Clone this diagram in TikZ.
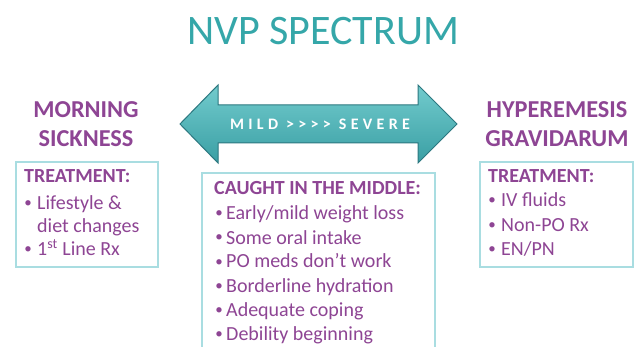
\documentclass[tikz,border=0pt]{standalone}
\usepackage{fontspec}
\setmainfont{Carlito}
\definecolor{teal1}{HTML}{35A7A9}
\definecolor{purp}{HTML}{8E4594}
\definecolor{boxc}{HTML}{A9DDE1}
\definecolor{arrowtop}{HTML}{72CBCD}
\definecolor{arrowbot}{HTML}{3A9FA4}
\definecolor{arrowline}{HTML}{2C7880}
\begin{document}
\begin{tikzpicture}[x=1pt,y=-1pt,
  hdr/.style={text=purp,font=\fontsize{24.3}{29}\selectfont\bfseries,align=center,inner sep=0pt},
  panel/.style={draw=boxc,line width=2pt},
  bt/.style={text=purp,font=\fontsize{20}{24}\selectfont,anchor=base west,inner sep=0pt},
  bh/.style={text=purp,font=\fontsize{20}{24}\selectfont\bfseries,anchor=base west,inner sep=0pt},
  bul/.style={text=purp,font=\fontsize{15}{18}\selectfont,anchor=base,inner sep=0pt}]
\useasboundingbox (0,0) rectangle (634,347);
\fill[white] (0,0) rectangle (634,347);
% title
\node[text=teal1,font=\fontsize{42}{46}\selectfont,anchor=base,inner sep=0pt] (title) at (323,45) {NVP SPECTRUM};
% arrow
\path[draw=arrowline,line width=1pt,top color=arrowtop,bottom color=arrowbot]
  (180,124) -- (218,85) -- (218,105) -- (418,105) -- (418,85) -- (457,124)
  -- (418,163) -- (418,143) -- (218,143) -- (218,163) -- cycle;
\node[text=white,font=\fontsize{16}{18}\selectfont\bfseries\addfontfeatures{LetterSpace=27},anchor=base,inner sep=0pt] (arrowtext) at (320,129.5) {MILD {>}{>}{>}{>} SEVERE};
% headers
\node[hdr] (ms) at (86,124) {MORNING\\[-0.5pt]SICKNESS};
\node[hdr] (hg) at (557,124) {HYPEREMESIS\\[-0.5pt]GRAVIDARUM};
% panels
\draw[panel] (16,162) rectangle (158,267);
\draw[panel] (202,173) rectangle (435,352);
\draw[panel] (480,162) rectangle (633,267);
% left text
\node[bh] (lh) at (24,183) {TREATMENT:};
\node[bul] (lb1) at (28,208) {•};
\node[bt] (l1) at (37,210) {Lifestyle \&};
\node[bt] (l1b) at (37,233) {diet changes};
\node[bul] (lb2) at (28,254) {•};
\node[bt] (l2) at (37,256) {1\textsuperscript{st} Line Rx};
% middle text
\node[bh] (mh) at (214,195) {CAUGHT IN THE MIDDLE:};
\node[bul] (mb1) at (219,218) {•};
\node[bt] (m1) at (226,220) {Early/mild weight loss};
\node[bul] (mb2) at (219,242) {•};
\node[bt] (m2) at (226,244) {Some oral intake};
\node[bul] (mb3) at (219,266) {•};
\node[bt] (m3) at (226,268) {PO meds don’t work};
\node[bul] (mb4) at (219,290) {•};
\node[bt] (m4) at (226,292) {Borderline hydration};
\node[bul] (mb5) at (219,314) {•};
\node[bt] (m5) at (226,316) {Adequate coping};
\node[bul] (mb6) at (219,338) {•};
\node[bt] (m6) at (226,340) {Debility beginning};
% right text
\node[bh] (rh) at (488,183) {TREATMENT:};
\node[bul] (rb1) at (492,205) {•};
\node[bt] (r1) at (501,207) {IV fluids};
\node[bul] (rb2) at (492,230) {•};
\node[bt] (r2) at (501,232) {Non-PO Rx};
\node[bul] (rb3) at (492,254) {•};
\node[bt] (r3) at (501,256) {EN/PN};
\end{tikzpicture}
\end{document}
